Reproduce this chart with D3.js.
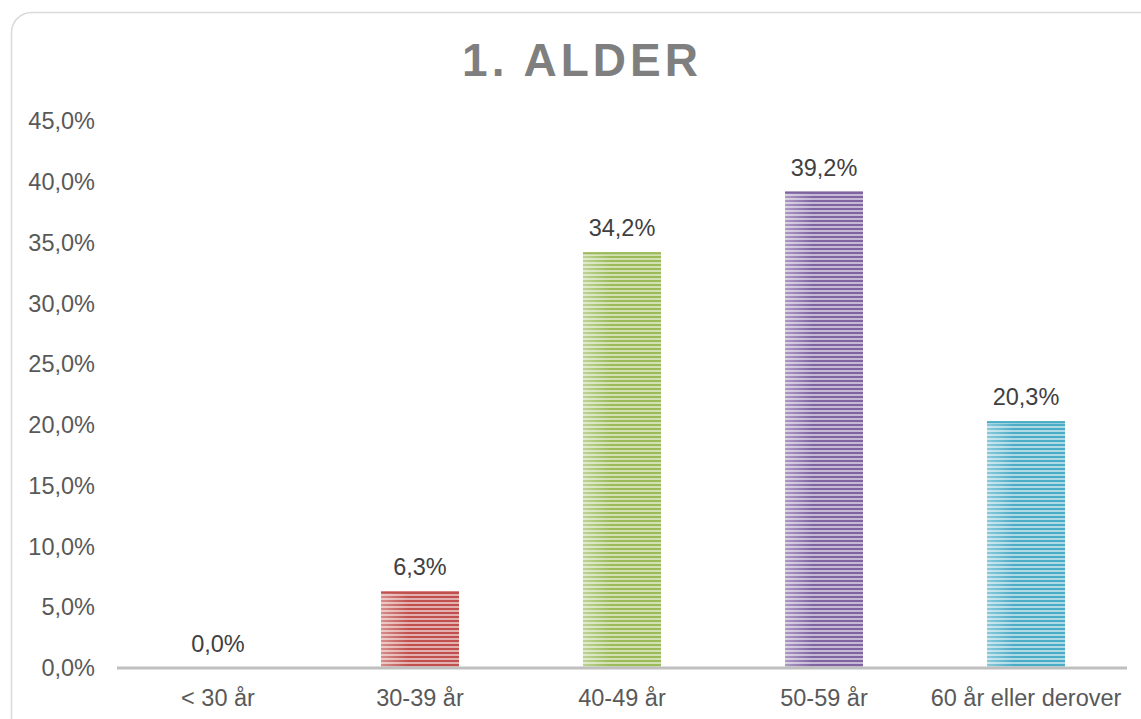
<!DOCTYPE html>
<html><head><meta charset="utf-8">
<script src="https://cdn.jsdelivr.net/npm/d3@7"></script>
<style>html,body{margin:0;padding:0;background:#fff;overflow:hidden}</style>
</head><body>
<script>
const categories = ["< 30 år", "30-39 år", "40-49 år", "50-59 år", "60 år eller derover"];
const values = [0.0, 6.3, 34.2, 39.2, 20.3];
const barColors = ["#c0504d", "#c0504d", "#9bbb59", "#8064a2", "#4bacc6"];
const yTicks = [0, 5, 10, 15, 20, 25, 30, 35, 40, 45];
const title = "1. ALDER";

const W = 1141, H = 719;
const svg = d3.select("body").append("svg").attr("width", W).attr("height", H)
  .style("font-family", "'Liberation Sans', Arial, sans-serif");

svg.append("rect").attr("x", 11.5).attr("y", 12.5).attr("width", 1150).attr("height", 730)
  .attr("rx", 20).attr("fill", "#fff").attr("stroke", "#d9d9d9").attr("stroke-width", 1.5);

const fmt = v => v.toFixed(1).replace(".", ",") + "%";

const x = d3.scaleBand().domain(categories).range([117, 1127]).paddingInner(0.614).paddingOuter(0.307);
const y = d3.scaleLinear().domain([0, 45]).range([668, 121]);

const defs = svg.append("defs");
barColors.forEach((c, i) => {
  const light = d3.interpolateRgb(c, "#fff")(0.55);
  const g = defs.append("linearGradient").attr("id", "hg" + i).attr("x1", 0).attr("x2", 1).attr("y1", 0).attr("y2", 0);
  g.append("stop").attr("offset", 0).attr("stop-color", "#fff").attr("stop-opacity", 0.35);
  g.append("stop").attr("offset", 0.35).attr("stop-color", "#fff").attr("stop-opacity", 0.0);
  g.append("stop").attr("offset", 1).attr("stop-color", "#fff").attr("stop-opacity", 0.0);
  const p = defs.append("pattern").attr("id", "pat" + i).attr("patternUnits", "userSpaceOnUse")
    .attr("width", 8).attr("height", 4);
  p.append("rect").attr("width", 8).attr("height", 4).attr("fill", light);
  p.append("rect").attr("width", 8).attr("height", 2).attr("y", 0).attr("fill", c);
});

// y axis labels
svg.append("g").selectAll("text").data(yTicks).join("text")
  .attr("x", 95).attr("y", d => y(d)).attr("dy", "0.35em")
  .attr("text-anchor", "end").attr("font-size", 23.5).attr("fill", "#595959")
  .text(d => fmt(d));

// bars
const bars = svg.append("g");
categories.forEach((c, i) => {
  if (values[i] <= 0) return;
  bars.append("rect").attr("x", x(c)).attr("y", y(values[i]))
    .attr("width", x.bandwidth()).attr("height", y(0) - y(values[i]))
    .attr("fill", "url(#pat" + i + ")");
  bars.append("rect").attr("x", x(c)).attr("y", y(values[i]))
    .attr("width", x.bandwidth()).attr("height", y(0) - y(values[i]))
    .attr("fill", "url(#hg" + i + ")");
  bars.append("rect").attr("x", x(c)).attr("y", y(values[i]))
    .attr("width", x.bandwidth()).attr("height", 2).attr("fill", barColors[i]);
});

// axis line
svg.append("line").attr("x1", 117).attr("x2", 1127).attr("y1", y(0)).attr("y2", y(0))
  .attr("stroke", "#bfbfbf").attr("stroke-width", 3);

// value labels
svg.append("g").selectAll("text").data(categories).join("text")
  .attr("x", d => x(d) + x.bandwidth() / 2)
  .attr("y", (d, i) => y(values[i]) - 16)
  .attr("text-anchor", "middle").attr("font-size", 23.5).attr("fill", "#404040")
  .text((d, i) => fmt(values[i]));

// category labels
svg.append("g").selectAll("text").data(categories).join("text")
  .attr("x", d => x(d) + x.bandwidth() / 2).attr("y", 706)
  .attr("text-anchor", "middle").attr("font-size", 23.5).attr("fill", "#595959")
  .text(d => d);

// title
svg.append("text").attr("x", 582).attr("y", 76).attr("text-anchor", "middle")
  .attr("font-size", 46).attr("font-weight", "bold").attr("letter-spacing", 4)
  .attr("fill", "#7f7f7f").text(title);
</script>
</body></html>
